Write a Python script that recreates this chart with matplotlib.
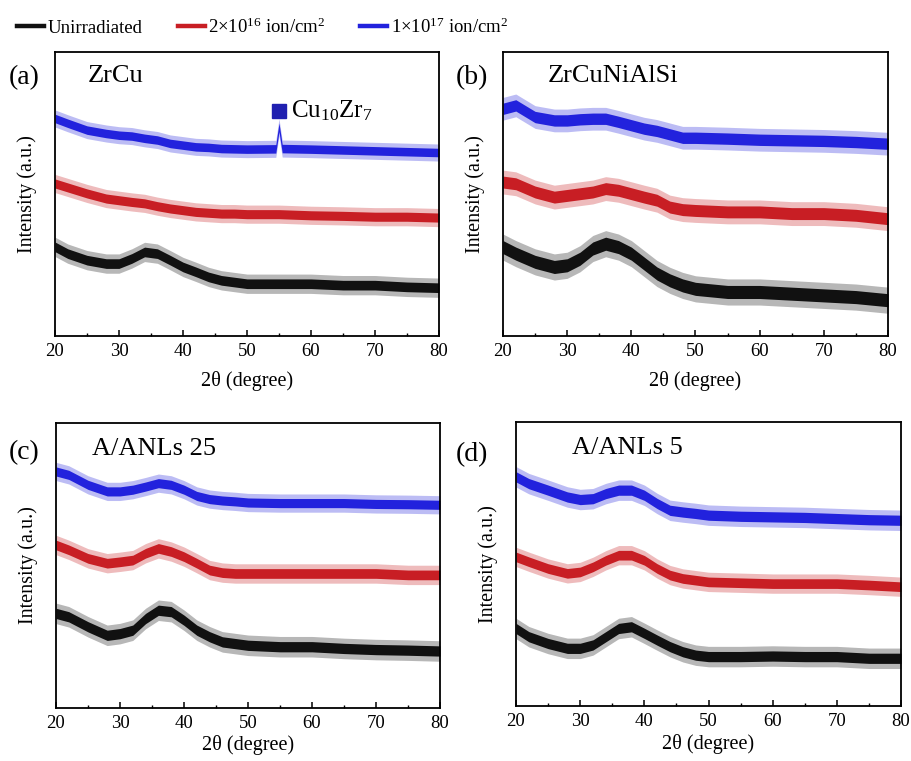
import matplotlib
matplotlib.use("Agg")
import numpy as np
import matplotlib.pyplot as plt
from matplotlib.lines import Line2D
from matplotlib.ticker import MultipleLocator

plt.rcParams["font.family"] = ["Liberation Serif", "DejaVu Serif"]
plt.rcParams["mathtext.fontset"] = "custom"
plt.rcParams["mathtext.rm"] = "Liberation Serif"
plt.rcParams["mathtext.it"] = "Liberation Serif:italic"

# 2-theta sampling positions (degrees)
TWO_THETA = [20, 22, 25, 28, 30, 32, 34, 36, 38, 40, 42, 44, 46, 48, 50, 55, 60, 65, 70, 75, 80]
TWO_THETA_PEAK = [20, 22, 25, 28, 30, 32, 34, 36, 38, 40, 42, 44, 46, 48, 50, 54.5, 55, 55.5,
                  60, 65, 70, 75, 80]

SERIES_LABELS = ["Unirradiated", "2×10$^{16}$ ion/cm$^{2}$", "1×10$^{17}$ ion/cm$^{2}$"]
SERIES_COLORS = ["#111111", "#c81e24", "#2222dd"]

PANEL_TAGS = ["(a)", "(b)", "(c)", "(d)"]
SAMPLE_NAMES = ["ZrCu", "ZrCuNiAlSi", "A/ANLs 25", "A/ANLs 5"]

# Intensity traces (arbitrary units, vertically offset)
ZRCU_UNIRR = [31.4, 29.0, 26.7, 25.5, 25.5, 27.3, 29.6, 29.0, 26.7, 24.3, 22.6, 20.8, 19.6, 19.0,
              18.4, 18.4, 18.4, 17.9, 17.9, 17.3, 17.0]
ZRCU_2E16 = [53.7, 52.3, 50.2, 48.4, 47.8, 47.2, 46.7, 45.7, 44.9, 44.3, 43.7, 43.4, 43.1, 43.1,
             42.9, 42.9, 42.5, 42.3, 42.0, 42.0, 41.7]
ZRCU_1E17 = [76.6, 74.9, 72.5, 71.3, 70.7, 70.4, 69.6, 69.0, 67.8, 67.2, 66.6, 66.4, 66.0, 65.9,
             65.8, 65.9, 73.5, 66.0, 65.8, 65.5, 65.2, 64.9, 64.6]

ZRCUNIALSI_UNIRR = [31.3, 29.0, 26.1, 24.3, 24.9, 27.2, 30.8, 32.5, 31.3, 29.0, 25.5, 22.0, 19.6,
                    17.8, 16.6, 15.5, 15.5, 14.9, 14.3, 13.7, 12.6]
ZRCUNIALSI_2E16 = [54.2, 53.6, 50.7, 48.9, 49.5, 50.1, 50.7, 51.9, 51.3, 50.1, 48.9, 47.8, 45.4,
                   44.5, 44.2, 43.7, 43.7, 43.1, 43.1, 42.5, 41.3]
ZRCUNIALSI_1E17 = [80.0, 81.2, 77.1, 75.9, 75.9, 76.3, 76.5, 76.5, 75.4, 74.2, 73.0, 72.2, 71.0,
                   69.8, 69.8, 69.5, 69.1, 68.9, 68.7, 68.3, 67.7]

ANLS25_UNIRR = [33.2, 32.0, 28.5, 25.5, 26.1, 27.3, 31.4, 34.3, 33.8, 30.8, 27.3, 25.0, 23.2,
                22.6, 22.0, 21.5, 21.5, 20.9, 20.5, 20.3, 20.0]
ANLS25_2E16 = [57.2, 55.5, 52.5, 50.8, 51.3, 51.9, 54.3, 56.0, 54.9, 53.1, 50.8, 48.4, 47.5,
               47.2, 47.2, 47.2, 47.2, 47.2, 47.2, 46.7, 46.7]
ANLS25_1E17 = [83.0, 81.8, 78.3, 76.0, 76.0, 76.6, 77.7, 78.9, 78.3, 76.6, 74.4, 73.3, 72.8,
               72.5, 72.1, 71.9, 71.9, 71.9, 71.6, 71.5, 71.3]

ANLS5_UNIRR = [27.3, 24.4, 22.0, 20.3, 20.3, 21.5, 24.4, 27.3, 27.9, 25.6, 23.2, 20.9, 19.1,
               17.9, 17.4, 17.4, 17.6, 17.4, 17.4, 16.8, 16.8]
ANLS5_2E16 = [52.5, 50.8, 48.4, 46.7, 47.2, 49.0, 51.3, 53.1, 53.1, 51.3, 48.4, 46.1, 44.9,
              44.3, 43.7, 43.4, 43.1, 43.1, 43.1, 42.6, 42.0]
ANLS5_1E17 = [80.7, 78.3, 76.0, 73.6, 72.7, 73.0, 74.8, 76.0, 76.0, 74.2, 71.3, 68.9, 68.3,
              67.8, 67.2, 66.8, 66.6, 66.4, 66.0, 65.6, 65.4]

# Half-height of the counting-noise band of each trace (same units)
NOISE_ZRCU = [1.7, 1.6, 1.5]
NOISE_ZRCUNIALSI = [2.3, 2.1, 2.0]
NOISE_ANLS25 = [1.8, 1.7, 1.6]
NOISE_ANLS5 = [1.8, 1.7, 1.8]

PEAK_POSITION = 55.0
PEAK_LABEL = "Cu$_{10}$Zr$_{7}$"

panels = [
    ([(TWO_THETA, ZRCU_UNIRR), (TWO_THETA, ZRCU_2E16), (TWO_THETA_PEAK, ZRCU_1E17)], NOISE_ZRCU),
    ([(TWO_THETA, ZRCUNIALSI_UNIRR), (TWO_THETA, ZRCUNIALSI_2E16), (TWO_THETA, ZRCUNIALSI_1E17)],
     NOISE_ZRCUNIALSI),
    ([(TWO_THETA, ANLS25_UNIRR), (TWO_THETA, ANLS25_2E16), (TWO_THETA, ANLS25_1E17)], NOISE_ANLS25),
    ([(TWO_THETA, ANLS5_UNIRR), (TWO_THETA, ANLS5_2E16), (TWO_THETA, ANLS5_1E17)], NOISE_ANLS5),
]

W, H = 912, 761
fig = plt.figure(figsize=(W / 100, H / 100), dpi=100)

# axes boxes in pixels: left, top, right, bottom
boxes = [(55, 52, 439, 336), (503, 52, 888, 336), (56, 423, 440, 708), (516, 422, 901, 706)]
tag_pos = [(9, 84), (456, 84), (9, 459), (456, 461)]
name_pos = [(88, 82), (548, 82), (92, 455), (572, 454)]
xlabel_pads = [8, 8, 2, 3]

for i, ((curves, noise), box) in enumerate(zip(panels, boxes)):
    l, t, r, b = box
    ax = fig.add_axes([l / W, 1 - b / H, (r - l) / W, (b - t) / H])
    for (x, y), color, hw in zip(curves, SERIES_COLORS, noise):
        x = np.asarray(x, dtype=float)
        y = np.asarray(y, dtype=float)
        ax.fill_between(x, y - 2.0 * hw, y + 2.0 * hw, color=color, alpha=0.3, lw=0)
        ax.fill_between(x, y - hw, y + hw, color=color, lw=0)
    ax.set_xlim(20, 80)
    ax.set_ylim(0, 100)
    ax.xaxis.set_major_locator(MultipleLocator(10))
    ax.xaxis.set_minor_locator(MultipleLocator(5))
    ax.set_yticks([])
    ax.tick_params(axis="x", which="major", direction="in", length=4, width=1.1,
                   labelsize=13.5, pad=5)
    ax.tick_params(axis="x", which="minor", direction="in", length=2.5, width=1.0)
    for s in ax.spines.values():
        s.set_linewidth(1.3)
    ax.set_xlabel("2θ (degree)", fontsize=14.5, labelpad=xlabel_pads[i])
    ax.set_ylabel("Intensity (a.u.)", fontsize=14.5, labelpad=13)

    tx, ty = tag_pos[i]
    fig.text(tx / W, 1 - ty / H, PANEL_TAGS[i], fontsize=20, va="baseline", ha="left")
    nx, ny = name_pos[i]
    fig.text(nx / W, 1 - ny / H, SAMPLE_NAMES[i], fontsize=19, va="baseline", ha="left")

    if i == 0:
        ax.plot([PEAK_POSITION], [79.4], marker="s", markersize=10.5, color="#2020b0",
                linestyle="none")
        ax.text(PEAK_POSITION + 1.8, 76.8, PEAK_LABEL, fontsize=18, va="baseline", ha="left")

handles = [Line2D([], [], color=c, linewidth=3.2) for c in SERIES_COLORS]
fig.legend(handles, SERIES_LABELS, loc="center left", bbox_to_anchor=(17 / W, 1 - 27 / H),
           ncol=3, frameon=False, fontsize=13.5, handlelength=1.45, handletextpad=0.2,
           columnspacing=1.85, borderpad=0, borderaxespad=0)

fig.savefig("out.png", dpi=100)
